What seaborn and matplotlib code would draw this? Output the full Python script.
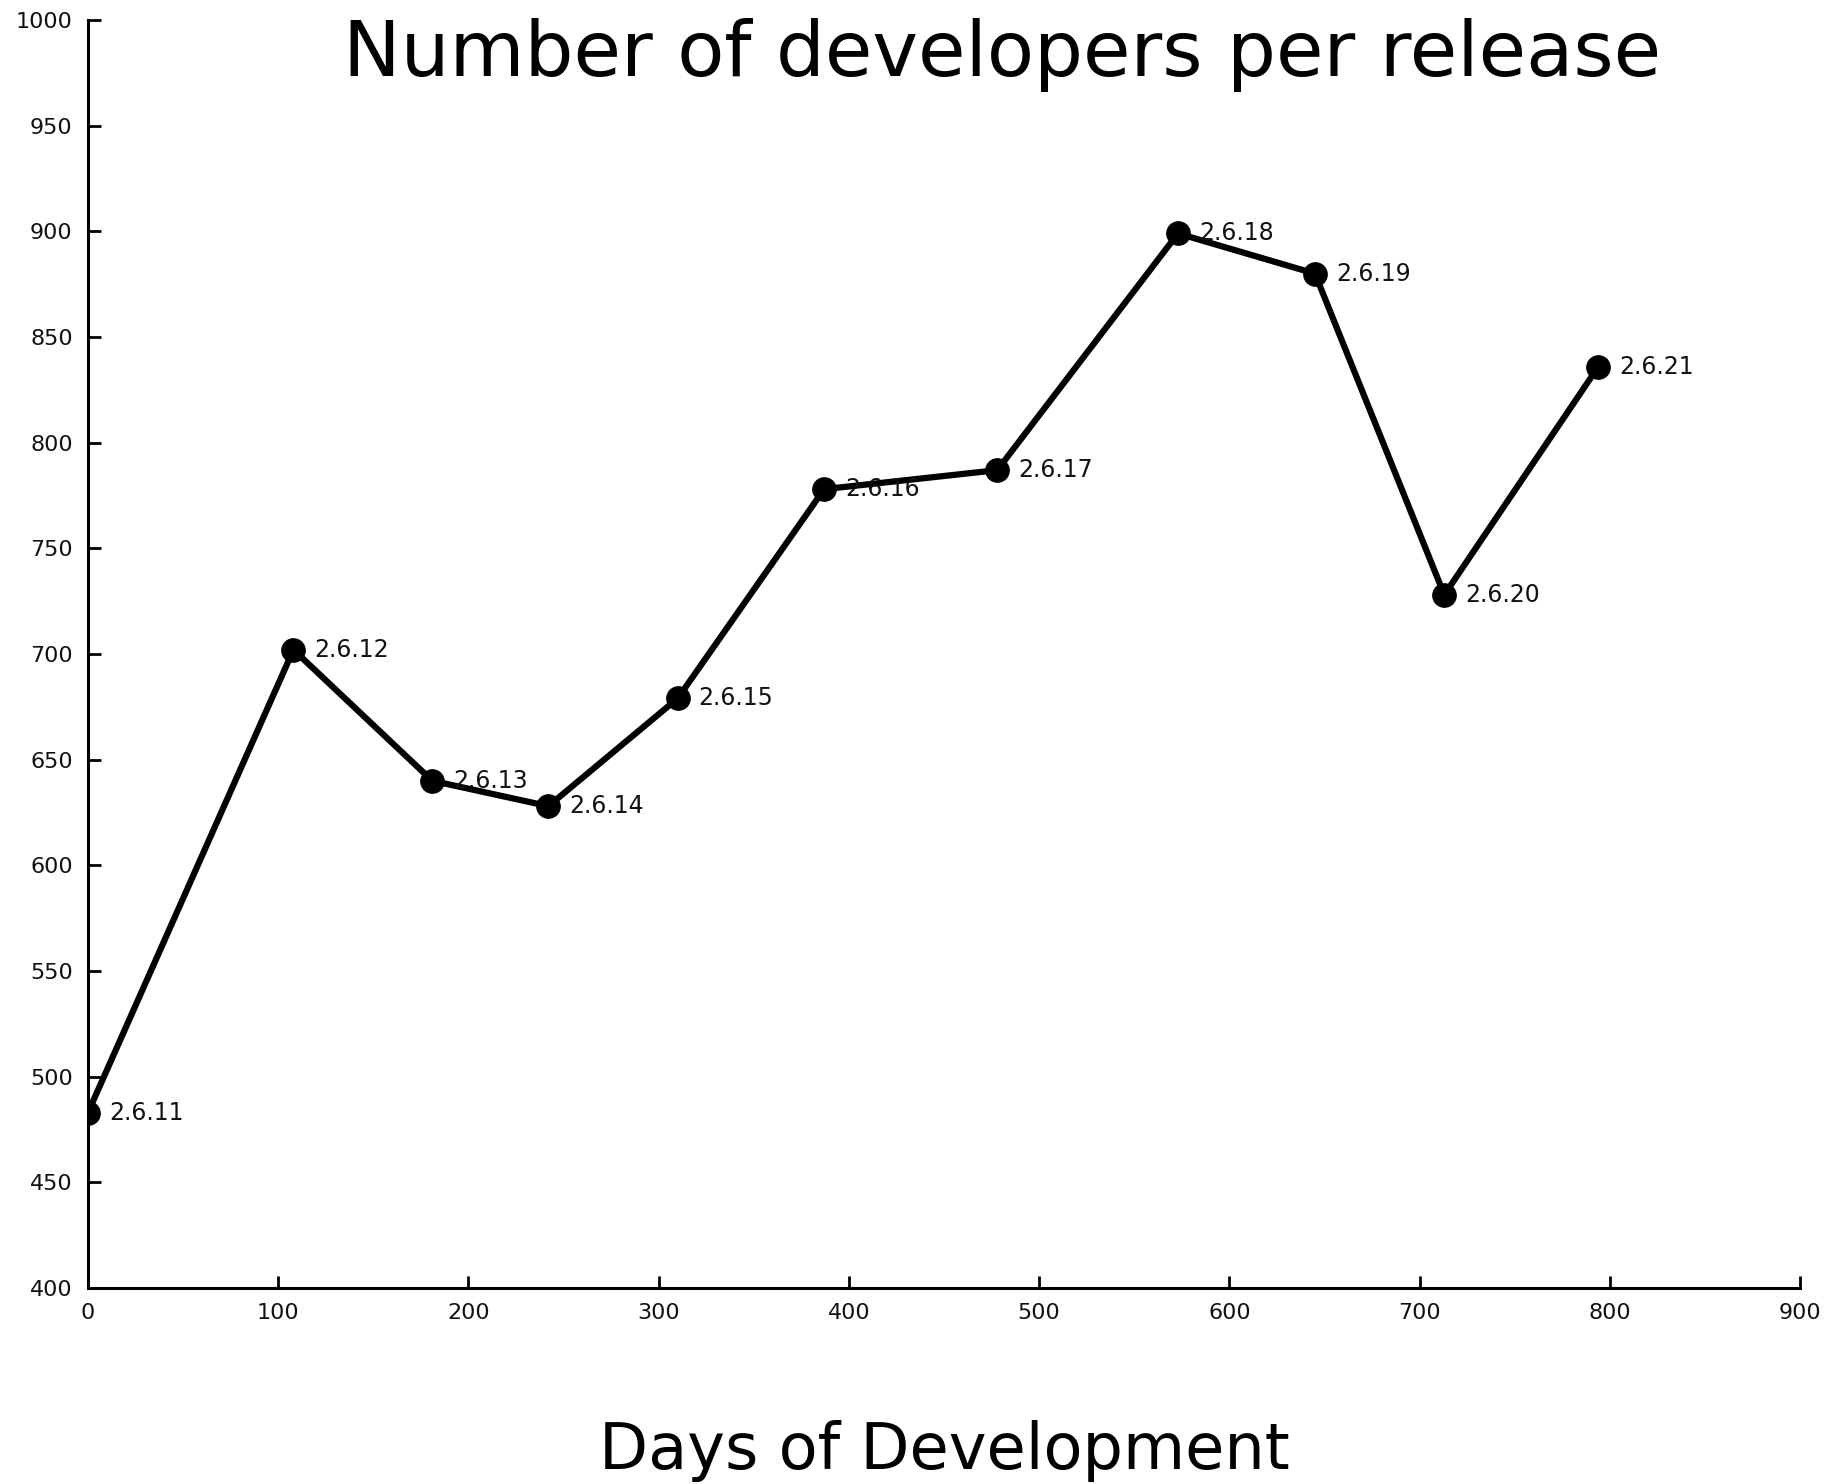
import numpy as np
import pandas as pd
import seaborn as sns
import matplotlib
matplotlib.use('Agg')
import matplotlib.pyplot as plt

# kernel releases, days since 2.6.11 and number of developers
releases = ['2.6.11', '2.6.12', '2.6.13', '2.6.14', '2.6.15', '2.6.16',
            '2.6.17', '2.6.18', '2.6.19', '2.6.20', '2.6.21']
days = [0, 108, 181, 242, 310, 387, 478, 573, 645, 713, 794]
developers = [483, 702, 640, 628, 679, 778, 787, 899, 880, 728, 836]

x_ticks = list(range(0, 901, 100))
y_ticks = list(range(400, 1001, 50))

data = pd.DataFrame({'days': days, 'developers': developers, 'release': releases})

sns.set_style('ticks')
plt.rcParams['font.family'] = ['DejaVu Sans']
plt.rcParams['text.color'] = 'black'
plt.rcParams['axes.labelcolor'] = 'black'
plt.rcParams['xtick.color'] = 'black'
plt.rcParams['ytick.color'] = 'black'

fig = plt.figure(figsize=(18.48, 14.84), dpi=100)
ax = fig.add_axes([88/1848, 1 - 1288/1484, (1800-88)/1848, (1288-20)/1484])

sns.lineplot(x='days', y='developers', data=data, color='black', linewidth=4.5,
             marker='o', markersize=17, markeredgecolor='black', ax=ax)

for _, row in data.iterrows():
    ax.annotate(row['release'], (row['days'], row['developers']),
                xytext=(15, 0), textcoords='offset points',
                ha='left', va='center', fontsize=17, color='#111111')

ax.set_xlim(0, 900)
ax.set_ylim(400, 1000)
ax.set_xticks(x_ticks)
ax.set_yticks(y_ticks)
ax.tick_params(direction='in', length=9, width=2, labelsize=16, pad=11,
               color='black', labelcolor='#111111')
sns.despine(ax=ax)
for side in ['left', 'bottom']:
    ax.spines[side].set_linewidth(2.2)
    ax.spines[side].set_color('black')

ax.set_xlabel('Days of Development', fontsize=46, labelpad=70, color='black')
ax.set_ylabel('')
ax.text(1002/1848, 1 - 55/1484, 'Number of developers per release', transform=fig.transFigure,
        ha='center', va='center', fontsize=55.5, color='black')

fig.savefig('out.png', dpi=100)
